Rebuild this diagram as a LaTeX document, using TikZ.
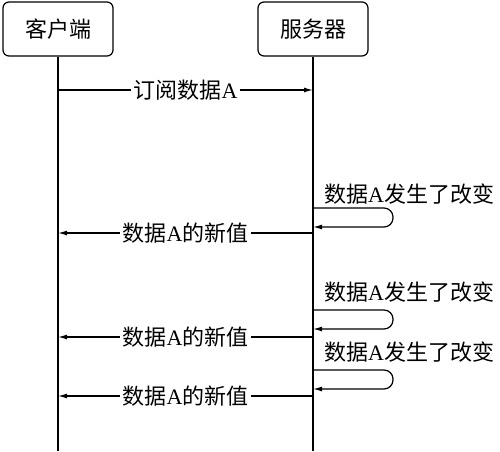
\documentclass[tikz,border=0pt]{standalone}
\usepackage{fontspec}
\setmainfont{Liberation Serif}
\newfontfamily\cjk{Noto Sans CJK SC}
\usetikzlibrary{arrows.meta}
\tikzset{
  actor/.style={draw, line width=1.2pt, rounded corners=6pt, minimum width=110pt, minimum height=54pt, font=\fontsize{22}{26}\selectfont, inner sep=0pt},
  life/.style={line width=1.2pt},
  msg/.style={line width=1.2pt, -{Latex[length=9pt,width=5pt]}},
  lbl/.style={fill=white, inner sep=3pt, font=\fontsize{22}{26}\selectfont},
  note/.style={anchor=west, inner sep=0pt, font=\fontsize{22}{26}\selectfont},
}
\begin{document}
\begin{tikzpicture}[x=1pt,y=-1pt]
\useasboundingbox (0,0) rectangle (500,451);
\node[actor] (client) at (58,29) {\cjk 客户端};
\node[actor] (server) at (313,29) {\cjk 服务器};
\coordinate (cend) at (58,451);
\coordinate (send) at (313,451);
\draw[life] (client.south) -- (cend);
\draw[life] (server.south) -- (send);
% subscribe
\coordinate (c1) at (58,90);
\coordinate (s1) at (313,90);
\draw[msg] (c1) -- node[lbl] (m1) {{\cjk 订阅数据}A} (s1);
% loop 1
\node[note] (n1) at (324,194) {{\cjk 数据}A{\cjk 发生了改变}};
\coordinate (l1a) at (313,208);
\coordinate (l1b) at (393,227);
\coordinate (l1c) at (313,227);
\draw[msg, rounded corners=9pt] (l1a) -| (l1b) -- (l1c);
\coordinate (s2) at (313,233);
\coordinate (c2) at (58,233);
\draw[msg] (s2) -- node[lbl] (m2) {{\cjk 数据}A{\cjk 的新值}} (c2);
% loop 2
\node[note] (n2) at (324,292) {{\cjk 数据}A{\cjk 发生了改变}};
\coordinate (l2a) at (313,310);
\coordinate (l2b) at (393,329);
\coordinate (l2c) at (313,329);
\draw[msg, rounded corners=9pt] (l2a) -| (l2b) -- (l2c);
\coordinate (s3) at (313,337);
\coordinate (c3) at (58,337);
\draw[msg] (s3) -- node[lbl] (m3) {{\cjk 数据}A{\cjk 的新值}} (c3);
% loop 3
\node[note] (n3) at (324,352) {{\cjk 数据}A{\cjk 发生了改变}};
\coordinate (l3a) at (313,370);
\coordinate (l3b) at (393,389);
\coordinate (l3c) at (313,389);
\draw[msg, rounded corners=9pt] (l3a) -| (l3b) -- (l3c);
\coordinate (s4) at (313,396);
\coordinate (c4) at (58,396);
\draw[msg] (s4) -- node[lbl] (m4) {{\cjk 数据}A{\cjk 的新值}} (c4);
\end{tikzpicture}
\end{document}
